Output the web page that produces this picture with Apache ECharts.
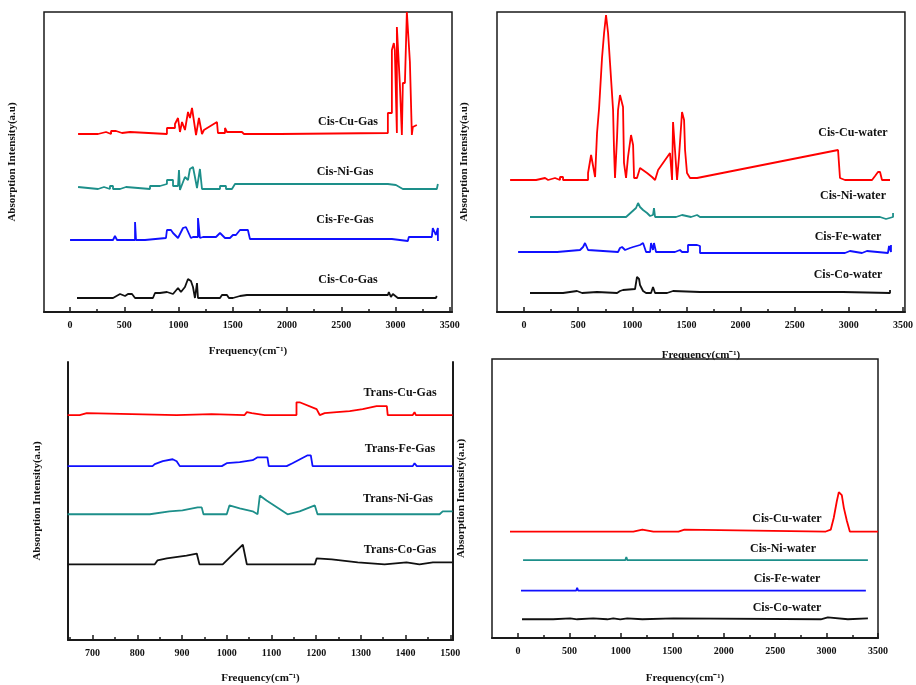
<!DOCTYPE html>
<html>
<head>
<meta charset="utf-8">
<script src="https://cdn.jsdelivr.net/npm/echarts@6/dist/echarts.min.js"></script>
<style>
  html, body { margin: 0; padding: 0; background: #fff; }
  #chart { width: 916px; height: 685px; }
</style>
</head>
<body>
<div id="chart"></div>
<script>
// tick labels
var ticksWide = [0, 500, 1000, 1500, 2000, 2500, 3000, 3500];
var minorWide = [250, 750, 1250, 1750, 2250, 2750, 3250];
var ticksTrans = [700, 800, 900, 1000, 1100, 1200, 1300, 1400, 1500];
var minorTrans = [650, 750, 850, 950, 1050, 1150, 1250, 1350, 1450];

// panel 1: cis complexes in gas  [frequency, stacked intensity]
var cisCuGas = [[74,178],[258,178],[258,180],[332,180],[332,178],[378,178],[378,181],[424,181],[424,179],[479,179],[479,180],[553,180],[553,178],[893,178],[893,184],[967,184],[967,188],[995,194],[1013,180],[1032,190],[1059,182],[1087,200],[1105,194],[1124,204],[1142,202],[1161,177],[1188,194],[1216,178],[1234,182],[1354,190],[1363,179],[1428,179],[1428,184],[1446,180],[1584,180],[1603,178],[1934,178],[1934,179],[2929,179],[2929,199],[2966,199],[2966,262],[2984,269],[2993,262],[3012,179],[3012,285],[3030,287],[3039,229],[3058,177],[3067,229],[3086,229],[3104,300],[3113,300],[3132,250],[3150,177],[3159,185],[3196,187]];
var cisNiGas = [[74,125],[92,123],[258,123],[258,125],[313,125],[313,123],[368,123],[368,126],[396,126],[396,123],[461,123],[461,125],[516,125],[516,123],[737,123],[737,126],[829,126],[829,128],[893,128],[893,132],[949,132],[949,126],[995,126],[1004,142],[1013,122],[1059,135],[1087,132],[1105,143],[1133,145],[1151,135],[1170,124],[1188,124],[1197,143],[1216,123],[1382,123],[1382,126],[1437,126],[1437,123],[1492,123],[1492,125],[1520,128],[2929,128],[2947,126],[3003,127],[3067,123],[3380,123],[3390,128]];
var cisFeGas = [[0,72],[396,72],[414,76],[433,72],[599,72],[599,90],[608,72],[691,72],[691,74],[884,74],[893,82],[930,82],[949,79],[995,74],[1041,84],[1068,85],[1114,74],[1133,75],[1179,75],[1179,94],[1197,74],[1225,75],[1345,75],[1382,79],[1428,74],[1474,74],[1501,77],[1529,77],[1566,82],[1639,82],[1658,73],[2966,73],[2975,71],[3113,71],[3122,75],[3334,75],[3343,84],[3371,77],[3390,84],[3390,71]];
var cisCoGas = [[64,14],[396,14],[414,16],[461,18],[507,16],[534,18],[571,18],[599,14],[764,14],[783,19],[829,19],[893,20],[949,18],[995,24],[1022,20],[1059,25],[1087,33],[1114,31],[1133,25],[1151,14],[1170,29],[1179,14],[1382,14],[1400,17],[1446,17],[1464,14],[1501,14],[1510,16],[1566,16],[1630,17],[2929,17],[2938,20],[2957,15],[2975,18],[2993,16],[3021,14],[3371,14],[3380,16]];

// panel 2: cis complexes in water
var cisCuWater = [[-129,132],[111,132],[111,134],[194,134],[194,132],[222,132],[222,134],[286,134],[286,132],[332,132],[332,135],[360,135],[360,132],[591,132],[591,139],[619,157],[637,159],[656,135],[674,179],[693,204],[720,254],[739,279],[757,297],[776,279],[794,249],[822,202],[831,162],[840,134],[859,175],[868,202],[886,217],[914,205],[923,149],[942,134],[960,155],[988,177],[1007,167],[1016,134],[1043,134],[1071,144],[1136,139],[1182,135],[1210,132],[1238,142],[1348,159],[1367,132],[1376,190],[1394,162],[1413,132],[1431,155],[1459,200],[1478,192],[1487,162],[1505,139],[1533,134],[1598,134],[2900,162],[2918,162],[2918,134],[2964,132],[3214,132],[3242,136],[3269,140],[3288,140],[3306,132],[3380,132]];
var cisNiWater = [[55,95],[194,95],[194,93],[222,95],[332,95],[332,97],[351,95],[471,95],[471,97],[489,95],[563,95],[563,97],[582,95],[942,95],[960,97],[1034,104],[1053,109],[1071,105],[1099,102],[1136,99],[1164,96],[1191,97],[1200,104],[1210,95],[1404,95],[1413,97],[1459,97],[1468,95],[1542,95],[1551,97],[1598,97],[1625,95],[3288,95],[3288,93],[3343,93],[3352,95],[3408,95],[3408,99]];
var cisFeWater = [[-55,60],[-18,60],[0,62],[28,60],[305,60],[305,62],[517,62],[545,65],[563,69],[573,70],[591,62],[609,60],[868,60],[886,64],[905,65],[933,62],[979,64],[1007,65],[1071,67],[1099,69],[1127,60],[1164,60],[1173,69],[1191,62],[1200,69],[1219,60],[1394,60],[1404,62],[1440,62],[1459,60],[1514,60],[1514,67],[1598,67],[1625,66],[1625,59],[2964,59],[2964,61],[3010,61],[3010,59],[3121,59],[3121,61],[3167,61],[3177,59],[3361,59],[3371,66],[3389,60],[3389,67]];
var cisCoWater = [[55,19],[360,19],[360,21],[489,21],[499,19],[536,19],[536,20],[674,20],[674,19],[859,19],[859,21],[886,21],[914,22],[1025,23],[1043,35],[1062,33],[1071,27],[1099,21],[1127,19],[1173,19],[1191,25],[1210,19],[1321,19],[1321,21],[1376,21],[1376,19],[1625,20],[2946,20],[2964,19],[3380,19],[3380,22]];

// panel 3: trans complexes in gas
var transCuGas = [[644,229],[671,229],[671,231],[687,231],[687,229],[888,229],[888,230],[966,230],[966,229],[1040,229],[1045,232],[1056,231],[1085,229],[1156,229],[1156,242],[1163,242],[1201,235],[1208,229],[1219,231],[1246,232],[1275,233],[1304,235],[1335,238],[1358,238],[1360,229],[1416,229],[1420,232],[1423,229],[1505,229]];
var transFeGas = [[644,177],[834,177],[839,179],[857,182],[879,184],[888,182],[895,177],[989,177],[1000,180],[1029,181],[1058,183],[1069,186],[1091,186],[1094,177],[1134,177],[1147,180],[1181,188],[1188,188],[1192,177],[1416,177],[1420,180],[1425,177],[1505,177]];
var transNiGas = [[644,128],[828,128],[872,131],[901,132],[935,135],[944,135],[948,128],[1000,128],[1006,137],[1029,134],[1058,131],[1069,128],[1074,147],[1089,142],[1136,128],[1163,131],[1197,137],[1203,128],[1476,128],[1483,131],[1505,131]];
var transCoGas = [[644,77],[839,77],[845,81],[866,83],[910,86],[933,88],[939,77],[991,77],[1036,97],[1045,77],[1197,77],[1201,83],[1235,82],[1293,79],[1353,77],[1402,79],[1431,77],[1461,79],[1505,79]];

// panel 4: cis complexes in water (second set)
var cisCuWater2 = [[-78,108],[945,108],[945,110],[955,108],[1043,108],[1043,110],[1053,108],[1121,108],[1140,110],[1209,110],[1218,108],[1316,108],[1335,110],[1365,108],[1560,108],[1579,110],[1618,110],[1637,108],[2992,108],[3041,110],[3070,122],[3100,139],[3119,148],[3148,145],[3168,132],[3197,119],[3226,108],[3500,108]];
var cisNiWater2 = [[49,79],[1043,79],[1053,82],[1063,79],[3402,79]];
var cisFeWater2 = [[29,48],[565,48],[575,51],[585,48],[3382,48]];
var cisCoWater2 = [[39,19],[90,19],[97,21],[105,19],[341,19],[341,20],[507,20],[507,19],[575,19],[575,20],[731,20],[731,19],[868,19],[868,20],[926,20],[926,19],[994,19],[994,20],[1062,20],[1062,19],[1209,19],[1209,20],[1511,20],[1511,19],[2944,19],[2944,21],[3012,21],[3012,19],[3207,19],[3207,20],[3402,20]];

var RED = '#ff0000', TEAL = '#1d8f8a', BLUE = '#1010ff', BLACK = '#111111';
var FONT = '"Liberation Serif", "Times New Roman", serif';
var xName = 'Frequency(cm\u207B\u00B9)';
var yName = 'Absorption Intensity(a.u)';

var chart = echarts.init(document.getElementById('chart'));

var grids = [
  { left: 44, top: 12, width: 408, height: 300, show: true },
  { left: 497, top: 12, width: 408, height: 300, show: true },
  { left: 68, top: 362, width: 385, height: 283, show: false },
  { left: 492, top: 359, width: 386, height: 283, show: true }
];
var xRanges = [[-240, 3520], [-250, 3518], [645, 1506], [-253, 3500]];
var nameGaps = [[34, 26], [38, 27], [33, 25], [35, 25]];
var majors = [ticksWide, ticksWide, ticksTrans, ticksWide];
var minors = [minorWide, minorWide, minorTrans, minorWide];

var xAxes = [], yAxes = [];
grids.forEach(function (g, i) {
  g.borderColor = '#1a1a1a';
  g.borderWidth = 1.5;
  xAxes.push({
    type: 'value', gridIndex: i, min: xRanges[i][0], max: xRanges[i][1],
    name: xName, nameLocation: 'middle', nameGap: nameGaps[i][0],
    nameTextStyle: { fontFamily: FONT, fontWeight: 'bold', fontSize: 11, color: '#111' },
    axisLine: { show: true, onZero: false, lineStyle: { color: '#1a1a1a', width: 2 } },
    axisTick: { show: true, inside: true, length: 5, customValues: majors[i], lineStyle: { color: '#1a1a1a', width: 1.5 } },
    axisLabel: {
      show: true, customValues: majors[i], margin: 8,
      formatter: function (v) { return String(v); },
      fontFamily: FONT, fontWeight: 'bold', fontSize: 10, color: '#111'
    },
    splitLine: { show: false }
  });
  xAxes.push({
    type: 'value', gridIndex: i, min: xRanges[i][0], max: xRanges[i][1], position: 'bottom',
    axisLine: { show: false, onZero: false },
    axisTick: { show: true, inside: true, length: 3, customValues: minors[i], lineStyle: { color: '#1a1a1a', width: 1.5 } },
    axisLabel: { show: false },
    splitLine: { show: false }
  });
  yAxes.push({
    type: 'value', gridIndex: i, min: 0, max: g.height,
    name: yName, nameLocation: 'middle', nameGap: nameGaps[i][1],
    nameTextStyle: { fontFamily: FONT, fontWeight: 'bold', fontSize: 11, color: '#111' },
    axisLine: { show: i === 2, onZero: false, lineStyle: { color: '#1a1a1a', width: 2 } },
    axisTick: { show: false }, axisLabel: { show: false }, splitLine: { show: false }
  });
});
// right spine of the trans panel (no top border there)
yAxes.push({
  type: 'value', gridIndex: 2, min: 0, max: 283, position: 'right',
  axisLine: { show: true, onZero: false, lineStyle: { color: '#1a1a1a', width: 2 } },
  axisTick: { show: false }, axisLabel: { show: false }, splitLine: { show: false }
});

function line(name, data, color, panel) {
  return {
    name: name, type: 'line', data: data,
    xAxisIndex: panel * 2, yAxisIndex: panel,
    showSymbol: false, symbol: 'none', animation: false,
    lineStyle: { color: color, width: 1.8 }, itemStyle: { color: color }
  };
}

var series = [
  line('Cis-Cu-Gas', cisCuGas, RED, 0),
  line('Cis-Ni-Gas', cisNiGas, TEAL, 0),
  line('Cis-Fe-Gas', cisFeGas, BLUE, 0),
  line('Cis-Co-Gas', cisCoGas, BLACK, 0),
  line('Cis-Cu-water', cisCuWater, RED, 1),
  line('Cis-Ni-water', cisNiWater, TEAL, 1),
  line('Cis-Fe-water', cisFeWater, BLUE, 1),
  line('Cis-Co-water', cisCoWater, BLACK, 1),
  line('Trans-Cu-Gas', transCuGas, RED, 2),
  line('Trans-Fe-Gas', transFeGas, BLUE, 2),
  line('Trans-Ni-Gas', transNiGas, TEAL, 2),
  line('Trans-Co-Gas', transCoGas, BLACK, 2),
  line('Cis-Cu-water ', cisCuWater2, RED, 3),
  line('Cis-Ni-water ', cisNiWater2, TEAL, 3),
  line('Cis-Fe-water ', cisFeWater2, BLUE, 3),
  line('Cis-Co-water ', cisCoWater2, BLACK, 3)
];

// series captions
var captions = [
  ['Cis-Cu-Gas', 348, 122], ['Cis-Ni-Gas', 345, 172], ['Cis-Fe-Gas', 345, 220], ['Cis-Co-Gas', 348, 280],
  ['Cis-Cu-water', 853, 133], ['Cis-Ni-water', 853, 196], ['Cis-Fe-water', 848, 237], ['Cis-Co-water', 848, 275],
  ['Trans-Cu-Gas', 400, 393], ['Trans-Fe-Gas', 400, 449], ['Trans-Ni-Gas', 398, 499], ['Trans-Co-Gas', 400, 550],
  ['Cis-Cu-water', 787, 519], ['Cis-Ni-water', 783, 549], ['Cis-Fe-water', 787, 579], ['Cis-Co-water', 787, 608]
];
var graphic = captions.map(function (c) {
  return {
    type: 'text', x: c[1], y: c[2], z: 10,
    style: {
      text: c[0], fill: '#111', font: 'bold 12px ' + FONT,
      textAlign: 'center', textVerticalAlign: 'middle'
    }
  };
});

chart.setOption({
  animation: false,
  backgroundColor: '#ffffff',
  grid: grids,
  xAxis: xAxes,
  yAxis: yAxes,
  series: series,
  graphic: graphic
});
</script>
</body>
</html>
